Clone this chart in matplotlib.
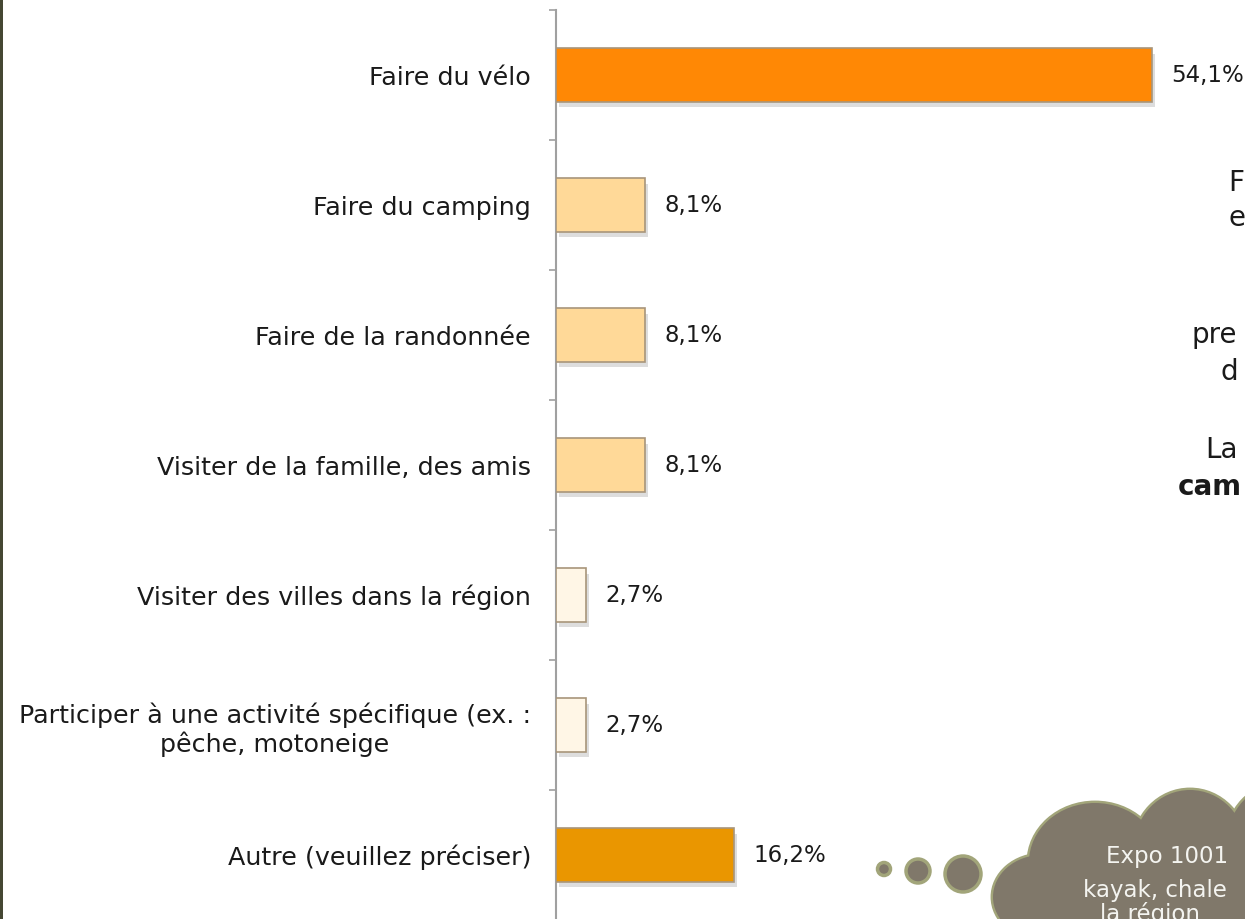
import numpy as np
import matplotlib.pyplot as plt
from matplotlib.patches import Ellipse, Circle, Rectangle
import matplotlib.patheffects as pe

# data
categories = ["Faire du vélo",
              "Faire du camping",
              "Faire de la randonnée",
              "Visiter de la famille, des amis",
              "Visiter des villes dans la région",
              "Participer à une activité spécifique (ex. :\npêche, motoneige",
              "Autre (veuillez préciser)"]
values = [54.1, 8.1, 8.1, 8.1, 2.7, 2.7, 16.2]
labels = ["54,1%", "8,1%", "8,1%", "8,1%", "2,7%", "2,7%", "16,2%"]
colors = ["#FF8805", "#FFD998", "#FFD998", "#FFD998", "#FFF6E6", "#FFF6E6", "#EA9600"]

plt.rcParams['font.family'] = ['DejaVu Sans']

W, H = 1245, 919
fig = plt.figure(figsize=(W/100, H/100), dpi=100)
fig.patch.set_facecolor("white")

# main bar chart, positioned in pixels
x0, ytop, ybot = 556, 10, 920
xmax = 60
pxper = 596/54.1
ax = fig.add_axes([x0/W, 1-ybot/H, xmax*pxper/W, (ybot-ytop)/H])
ypos = np.arange(len(categories))
bars = ax.barh(ypos, values, height=0.41, color=colors, edgecolor="#A8957A", linewidth=1.2, zorder=3)
for b in bars:
    b.set_path_effects([pe.SimplePatchShadow(offset=(2, -4), shadow_rgbFace="#909090", alpha=0.3),
                        pe.Normal()])
for y, v, t in zip(ypos, values, labels):
    ax.annotate(t, (v, y), xytext=(14, 0), textcoords="offset points",
                ha="left", va="center", fontsize=16.5, color="#1A1A1A")

ax.set_xlim(0, xmax)
ax.set_ylim(len(categories)-0.5, -0.5)
ax.set_yticks(ypos)
ax.set_yticklabels(categories, fontsize=18.3, color="#1A1A1A", multialignment="center")
ax.set_yticks(np.arange(-0.5, len(categories)), minor=True)
ax.tick_params(axis="y", which="major", length=0, pad=18)
ax.tick_params(axis="y", which="minor", length=5, width=1.2, color="#A0A0A0")
ax.set_xticks([])
for s in ["top", "right", "bottom"]:
    ax.spines[s].set_visible(False)
ax.spines["left"].set_color("#A0A0A0")
ax.spines["left"].set_linewidth(1.5)
ax.patch.set_alpha(0)

# overlay in pixel coordinates for slide decorations
ov = fig.add_axes([0, 0, 1, 1], zorder=5)
ov.set_xlim(0, W)
ov.set_ylim(H, 0)
ov.axis("off")
ov.patch.set_alpha(0)

ov.add_patch(Rectangle((0, 0), 2.5, H, color="#454733", lw=0))

fill = "#80786A"
edge = "#A2A57A"
lobes = [((1042, 897), 98, 84), ((1095, 862), 132, 118), ((1190, 848), 112, 116),
         ((1282, 842), 110, 116), ((1062, 955), 120, 90), ((1180, 930), 220, 160)]
for (c, w, h) in lobes:
    ov.add_patch(Ellipse(c, w, h, facecolor=fill, edgecolor=edge, lw=3.5))
for (c, w, h) in lobes:
    ov.add_patch(Ellipse(c, w, h, facecolor=fill, edgecolor="none"))
for (c, r) in [((884, 869), 6.5), ((918, 871), 12), ((963, 874), 18)]:
    ov.add_patch(Circle(c, r, facecolor=fill, edgecolor=edge, lw=2.5))

for t, x, y in [("Expo 1001", 1106, 856), ("kayak, chale", 1083, 891), ("la région", 1100, 914)]:
    ov.text(x, y, t, fontsize=16.5, color="#F4F4F0", ha="left", va="center")

for t, x, y, wgt in [("F", 1228, 183, "normal"), ("e", 1228, 218, "normal"),
                     ("pre", 1192, 335, "normal"), ("d", 1220, 372, "normal"),
                     ("La", 1205, 450, "normal"), ("cam", 1178, 487, "bold")]:
    ov.text(x, y, t, fontsize=20, color="#1A1A1A", ha="left", va="center", fontweight=wgt)

fig.savefig("out.png", dpi=100)
